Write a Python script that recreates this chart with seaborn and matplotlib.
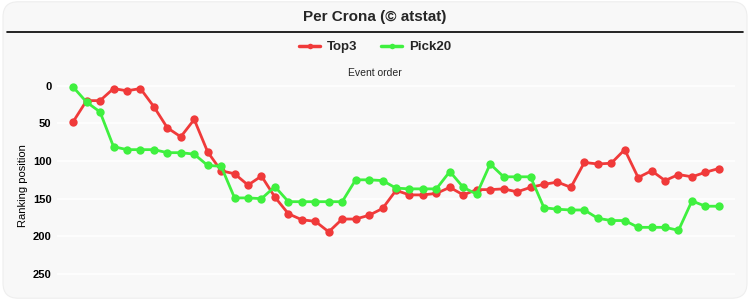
import matplotlib
matplotlib.use("Agg")
import matplotlib.pyplot as plt
from matplotlib.patches import FancyBboxPatch
from matplotlib.lines import Line2D
import seaborn as sns
import pandas as pd
import numpy as np

series_names = ["Top3", "Pick20"]
top3 = [48, 20, 20, 4, 7, 4, 28, 56, 68, 45, 88, 113, 117, 132, 120, 148, 170, 178,
        180, 194, 177, 177, 172, 163, 139, 145, 145, 143, 135, 145, 138, 138, 137, 141,
        135, 131, 128, 135, 102, 104, 103, 85, 122, 113, 126, 118, 121, 115, 110]
pick20 = [2, 22, 35, 81, 85, 85, 85, 89, 89, 91, 106, 107, 149, 149, 150, 134, 154, 154,
          154, 154, 154, 125, 125, 126, 136, 137, 137, 137, 114, 135, 144, 104, 121, 121,
          121, 162, 164, 165, 165, 176, 179, 179, 188, 188, 188, 192, 153, 160, 160]
y_ticks = [0, 50, 100, 150, 200, 250]
title = "Per Crona (© atstat)"
x_title = "Event order"
y_title = "Ranking position"

events = list(range(len(top3)))
df = pd.DataFrame({
    "event": events + events,
    "rank": top3 + pick20,
    "series": [series_names[0]] * len(top3) + [series_names[1]] * len(pick20),
})

sns.set_theme(style="white")
plt.rcParams['font.family'] = ['Liberation Sans', 'DejaVu Sans']

bg = "#f8f8f8"
fig = plt.figure(figsize=(7.5, 3.0), dpi=100, facecolor="white")
frame = FancyBboxPatch((0.004, 0.006), 0.992, 0.988, boxstyle="round,pad=0,rounding_size=0.02",
                       transform=fig.transFigure, facecolor=bg, edgecolor="#eeeeee",
                       linewidth=0.8, zorder=-10, mutation_aspect=2.5)
fig.patches.append(frame)

ax = fig.add_axes([0.076, 0.027, 0.904, 0.707])
ax.set_facecolor(bg)
palette = {"Top3": "#f03a3a", "Pick20": "#3ff03f"}
sns.lineplot(data=df, x="event", y="rank", hue="series", palette=palette, marker="o",
             markersize=6, markeredgewidth=0, linewidth=2.0, ax=ax, legend=False)

ax.set_xlim(-1.2, 49.2)
ax.set_ylim(273.6, -7.6)
ax.set_yticks(y_ticks)
ax.set_yticklabels([str(t) for t in y_ticks], fontsize=8, fontweight="bold", color="black")
ax.tick_params(axis="y", length=0, pad=4)
ax.set_xticks([])
ax.set_xlabel("")
ax.set_ylabel(y_title, fontsize=8, color="black")
ax.yaxis.set_label_coords(-0.043, 0.5)
ax.grid(axis="y", color="white", linewidth=1.2)
for s in ax.spines.values():
    s.set_visible(False)

fig.text(0.5, 0.943, title, ha="center", va="center", fontsize=11, fontweight="bold")
fig.add_artist(Line2D([0.009, 0.991], [0.893, 0.893], transform=fig.transFigure,
                      color="black", linewidth=1.2))
fig.text(0.5, 0.757, x_title, ha="center", va="center", fontsize=7.5)

handles = [Line2D([], [], color=palette[n], marker="o", markersize=4, markeredgewidth=0,
                  linewidth=2.5) for n in series_names]
leg = fig.legend(handles, series_names, loc="center", bbox_to_anchor=(0.5, 0.843),
                 ncol=2, frameon=False, handlelength=1.6, columnspacing=1.8,
                 handletextpad=0.5, prop={"weight": "bold", "size": 9.5})

fig.savefig("out.png", dpi=100, facecolor="white")
